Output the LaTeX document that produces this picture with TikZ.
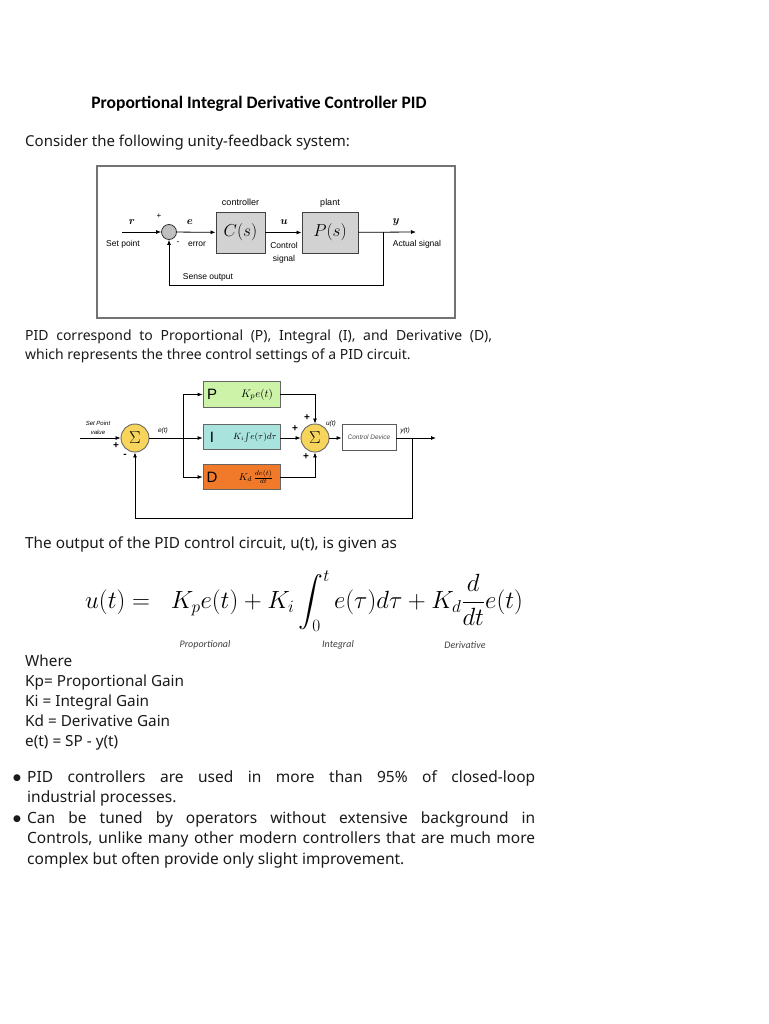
\documentclass[tikz,border=0pt]{standalone}
\usepackage[no-math]{fontspec}
\usepackage{amsmath}
\usetikzlibrary{arrows.meta}
\newfontfamily\bodyf{Noto Sans}
\newfontfamily\titlef{Carlito}
\newfontfamily\arialf{Liberation Sans}
\newfontfamily\symf{DejaVu Sans}
\definecolor{pgreen}{HTML}{CCF3A8}
\definecolor{icyan}{HTML}{A9E3DE}
\definecolor{dorange}{HTML}{F07A2A}
\definecolor{sumyel}{HTML}{F7D55C}
\definecolor{boxgray}{HTML}{D2D2D2}
\definecolor{txt}{HTML}{1A1A1A}
\tikzset{
  bodytext/.style={anchor=base west, inner sep=0pt, text=txt, font=\bodyf\fontsize{15.3}{20}\selectfont},
  lab/.style={inner sep=0pt, font=\arialf\fontsize{8.5}{10}\selectfont},
  vlab/.style={inner sep=0pt, font=\bfseries\itshape\fontsize{11}{12}\selectfont},
  graybox/.style={draw=black!75, line width=0.9pt, fill=boxgray, minimum height=41pt, inner sep=0pt},
  sig/.style={line width=0.8pt, -{Latex[length=5pt,width=4pt]}},
  wire/.style={line width=0.8pt},
  sumc/.style={circle, draw=black!60, line width=0.9pt, fill=sumyel, minimum size=28pt, inner sep=0pt, font=\fontsize{16}{16}\selectfont},
  pidbox/.style={draw=black!60, line width=0.8pt, minimum width=77pt, minimum height=25.5pt, inner sep=0pt},
  letter/.style={inner sep=0pt, font=\arialf\fontsize{15}{16}\selectfont},
  tiny/.style={inner sep=0pt, font=\arialf\itshape\fontsize{6.5}{7.5}\selectfont},
  pm/.style={inner sep=0pt, font=\arialf\bfseries\fontsize{10}{10}\selectfont},
  eqlab/.style={inner sep=0pt, text=black!75, font=\titlef\itshape\fontsize{10}{12}\selectfont},
  bullet/.style={inner sep=0pt, text=txt, font=\symf\fontsize{9}{9}\selectfont},
}
\begin{document}
\begin{tikzpicture}[x=1pt,y=-1pt]
\useasboundingbox[fill=white] (0,0) rectangle (768,1024);

% title and intro
\node[anchor=base, inner sep=0pt, font=\titlef\bfseries\fontsize{17.5}{20}\selectfont] (title) at (259,108.5) {Proportional Integral Derivative Controller PID};
\node[anchor=base west, inner sep=0pt, text=txt, font=\bodyf\fontsize{15}{20}\selectfont] (consider) at (25,146.5) {Consider the following unity-feedback system:};

% ---------- diagram 1 ----------
\draw[black!55, line width=1.2pt] (97,166) rectangle (455,318);
\node[circle, draw=black!80, fill=black!25, line width=0.8pt, minimum size=15pt, inner sep=0pt] (s1) at (169,232) {};
\node[graybox, minimum width=49pt] (C) at (240.5,232.5) {\fontsize{17}{17}\selectfont$C(s)$};
\node[graybox, minimum width=56pt] (Pl) at (330,232.5) {\fontsize{17}{17}\selectfont$P(s)$};
\coordinate (rin) at (122,232);
\coordinate (yout) at (416,232);
\coordinate (fb) at (383,232);
\draw[sig] (rin) -- (s1);
\draw[sig] (s1) -- (C);
\draw[sig] (C) -- (Pl);
\draw[sig] (Pl) -- (yout);
\draw[sig] (fb) -- (fb |- 0,285) -- (s1 |- 0,285) -- (s1);
\node[vlab] (r) at (132,222) {$\boldsymbol{r}$};
\node[pm, font=\arialf\fontsize{8}{8}\selectfont] (plus1) at (159,216) {+};
\node[vlab] (e) at (190,222) {$\boldsymbol{e}$};
\node[vlab] (u) at (284,222) {$\boldsymbol{u}$};
\node[vlab] (y) at (396,222) {$\boldsymbol{y}$};
\node[lab] (sp) at (123,244) {Set point};
\node[lab] (minus1) at (178,243.5) {-};
\node[lab] (err) at (197,244) {error};
\node[lab, font=\arialf\fontsize{9}{10}\selectfont] (ctrl) at (240.5,202) {controller};
\node[lab, font=\arialf\fontsize{9}{10}\selectfont] (plant) at (330,203) {plant};
\node[lab, align=center, font=\arialf\fontsize{8.5}{13}\selectfont] (cs) at (284,252.5) {Control\\signal};
\node[lab] (act) at (417,244) {Actual signal};
\node[lab] (sense) at (208,277.5) {Sense output};

% ---------- paragraph ----------
\node[anchor=north west, inner sep=0pt, text width=467pt, align=justify, text=txt, font=\bodyf\fontsize{14}{18.5}\selectfont] (pidtext) at (25,330) {PID correspond to Proportional (P), Integral (I), and Derivative (D),\linebreak which represents the three control settings of a PID circuit.};

% ---------- diagram 2 ----------
\node[sumc] (S1) at (135,438) {$\Sigma$};
\node[sumc] (S2) at (315,438) {$\Sigma$};
\node[pidbox, fill=pgreen] (Pb) at (241.5,394.5) {};
\node[pidbox, fill=icyan] (Ib) at (241.5,437) {};
\node[pidbox, fill=dorange] (Db) at (241.5,477) {};
\node[letter] (Pt) at (212,394.5) {P};
\node[letter] (It) at (212,437) {I};
\node[letter] (Dt) at (212,477) {D};
\node[inner sep=0pt, font=\fontsize{11}{12}\selectfont] (Pf) at (257,394.5) {$K_pe(t)$};
\node[inner sep=0pt, font=\fontsize{9}{10}\selectfont] (If) at (255,437) {$K_i\!\int\! e(\tau)d\tau$};
\node[inner sep=0pt, font=\fontsize{10}{11}\selectfont] (Df) at (256,477) {$K_d\,\frac{de(t)}{dt}$};
\node[draw=black!65, fill=white, line width=0.8pt, minimum width=54pt, minimum height=26pt, inner sep=0pt, font=\arialf\itshape\fontsize{6.5}{7}\selectfont, text=black!70] (CD) at (369,437) {Control Device};
\coordinate (in2) at (80,438);
\coordinate (br) at (183,438);
\coordinate (out2) at (436,438);
\coordinate (fb2) at (412,438);
\draw[sig] (in2) -- (S1);
\draw[wire] (S1) -- (br);
\draw[sig] (br) -- (Ib.west |- br);
\draw[sig] (br) |- (Pb);
\draw[sig] (br) |- (Db);
\draw[sig] (Ib.east |- S2) -- (S2);
\draw[sig] (Pb) -| (S2);
\draw[sig] (Db) -| (S2);
\draw[sig] (S2) -- (CD.west |- S2);
\draw[sig] (CD.east |- S2) -- (out2);
\draw[sig] (fb2) -- (fb2 |- 0,518) -- (S1 |- 0,518) -- (S1);
\node[tiny, align=center, font=\arialf\itshape\fontsize{6}{9}\selectfont] (spv) at (98,427.5) {Set Point\\ value};
\node[pm] (p1) at (116,446) {+};
\node[pm] (m1) at (125,456) {-};
\node[tiny] (et) at (163,431) {e(t)};
\node[pm] (p2) at (307,418) {+};
\node[pm] (p3) at (295,429) {+};
\node[pm] (p4) at (306,457) {+};
\node[tiny] (ut) at (331,424) {u(t)};
\node[tiny] (yt) at (405,431) {y(t)};

% ---------- equation ----------
\node[bodytext] (outtext) at (25,548.5) {The output of the PID control circuit, u(t), is given as};
\node[inner sep=0pt, font=\fontsize{27}{30}\selectfont] (eq) at (304,601) {$\displaystyle u(t) =\;\; K_pe(t) + K_i\int_0^t e(\tau)d\tau + K_d\frac{d}{dt}e(t)$};
\node[eqlab] (l1) at (205,645) {Proportional};
\node[eqlab] (l2) at (338,645) {Integral};
\node[eqlab] (l3) at (465,645) {Derivative};

% ---------- definitions ----------
\node[bodytext] (w0) at (25,666.5) {Where};
\node[bodytext] (w1) at (25,686.5) {Kp= Proportional Gain};
\node[bodytext] (w2) at (25,706.5) {Ki = Integral Gain};
\node[bodytext] (w3) at (25,726.5) {Kd = Derivative Gain};
\node[bodytext] (w4) at (25,746.5) {e(t) = SP - y(t)};

% ---------- bullets ----------
\node[bullet] (b1) at (17,778) {●};
\node[bullet] (b2) at (17,819) {●};
\node[anchor=north west, inner sep=0pt, text width=508pt, align=justify, text=txt, font=\bodyf\fontsize{15.5}{20.3}\selectfont] (bt1) at (27,770) {PID controllers are used in more than 95\% of closed-loop\linebreak industrial processes.};
\node[anchor=north west, inner sep=0pt, text width=508pt, align=justify, text=txt, font=\bodyf\fontsize{15.5}{20.3}\selectfont] (bt2) at (27,811.5) {Can be tuned by operators without extensive background in\linebreak Controls, unlike many other modern controllers that are much more\linebreak complex but often provide only slight improvement.};
\end{tikzpicture}
\end{document}
